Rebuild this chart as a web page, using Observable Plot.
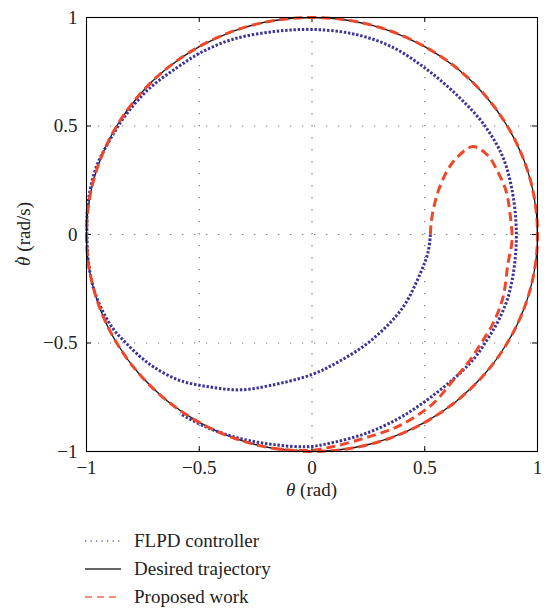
<!DOCTYPE html>
<html>
<head>
<meta charset="utf-8">
<script src="https://cdn.jsdelivr.net/npm/d3@7"></script>
<script src="https://cdn.jsdelivr.net/npm/@observablehq/plot@0.6"></script>
<style>
  body { margin: 0; background: #fff; font-family: "Liberation Serif", serif; }
  #legend { padding: 22px 0 0 85px; }
  .row { display: flex; align-items: center; height: 28px; font-size: 19px; color: #222; }
  .row svg { margin-right: 13px; }
</style>
</head>
<body>
<div id="chart"></div>
<div id="legend"></div>
<script>
const xTicks = [-1, -0.5, 0, 0.5, 1];
const yTicks = [-1, -0.5, 0, 0.5, 1];
const gridTicks = [-0.5, 0, 0.5];

const seriesNames = ["FLPD controller", "Desired trajectory", "Proposed work"];
const seriesColors = ["#3b3399", "#1a1a1a", "#f0472a"];

const desiredTheta = [1, 0.985, 0.94, 0.866, 0.766, 0.643, 0.5, 0.342, 0.174, 0, -0.174, -0.342, -0.5, -0.643, -0.766, -0.866, -0.94, -0.985, -1, -0.985, -0.94, -0.866, -0.766, -0.643, -0.5, -0.342, -0.174, 0, 0.174, 0.342, 0.5, 0.643, 0.766, 0.866, 0.94, 0.985];
const desiredRate = [0, 0.174, 0.342, 0.5, 0.643, 0.766, 0.866, 0.94, 0.985, 1, 0.985, 0.94, 0.866, 0.766, 0.643, 0.5, 0.342, 0.174, 0, -0.174, -0.342, -0.5, -0.643, -0.766, -0.866, -0.94, -0.985, -1, -0.985, -0.94, -0.866, -0.766, -0.643, -0.5, -0.342, -0.174];

const flpdTheta = [0.525, 0.515, 0.48, 0.40, 0.26, 0.12, 0, -0.186, -0.319, -0.45, -0.585, -0.70, -0.765, -0.825, -0.878, -0.925, -0.965, -0.99, -0.998, -0.993, -0.957, -0.898, -0.822, -0.72, -0.60, -0.49, -0.35, -0.17, 0, 0.18, 0.35, 0.51, 0.65, 0.76, 0.845, 0.888, 0.906, 0.898, 0.872, 0.83, 0.78, 0.72, 0.65, 0.57, 0.48, 0.38, 0.243, 0.095, -0.02, -0.173, -0.319, -0.466, -0.585];
const flpdRate = [0, -0.08, -0.18, -0.34, -0.49, -0.585, -0.645, -0.696, -0.716, -0.703, -0.673, -0.612, -0.56, -0.5, -0.44, -0.36, -0.26, -0.14, 0, 0.147, 0.31, 0.433, 0.556, 0.674, 0.768, 0.84, 0.9, 0.935, 0.945, 0.925, 0.867, 0.76, 0.635, 0.51, 0.36, 0.2, 0.02, -0.14, -0.28, -0.39, -0.48, -0.57, -0.645, -0.715, -0.785, -0.85, -0.915, -0.958, -0.978, -0.968, -0.94, -0.889, -0.826];

const proposedTheta = [0.525, 0.528, 0.537, 0.56, 0.6, 0.643, 0.714, 0.78, 0.825, 0.86, 0.878, 0.887, 0.869, 0.847, 0.803, 0.758, 0.7, 0.625, 0.537, 0.39, 0.243, 0.095, -0.009, -0.174, -0.342, -0.5, -0.643, -0.766, -0.866, -0.94, -0.985, -1, -0.985, -0.94, -0.866, -0.766, -0.643, -0.5, -0.342, -0.174, 0, 0.174, 0.342, 0.5, 0.643, 0.766, 0.866, 0.94, 0.985, 1, 0.985, 0.94, 0.866, 0.766, 0.643, 0.5, 0.342, 0.174, 0, -0.174];
const proposedRate = [0, 0.05, 0.11, 0.2, 0.295, 0.355, 0.405, 0.364, 0.286, 0.203, 0.097, -0.028, -0.134, -0.29, -0.41, -0.488, -0.58, -0.673, -0.779, -0.88, -0.935, -0.977, -0.995, -0.985, -0.94, -0.866, -0.766, -0.643, -0.5, -0.342, -0.174, 0, 0.174, 0.342, 0.5, 0.643, 0.766, 0.866, 0.94, 0.985, 1, 0.985, 0.94, 0.866, 0.766, 0.643, 0.5, 0.342, 0.174, 0, -0.174, -0.342, -0.5, -0.643, -0.766, -0.866, -0.94, -0.985, -1, -0.985];

const toRows = (xs, ys) => xs.map((x, i) => ({x, y: ys[i]}));
const desired = toRows(desiredTheta, desiredRate);
const flpd = toRows(flpdTheta, flpdRate);
const proposed = toRows(proposedTheta, proposedRate);

const W = 548, H = 505, mL = 86, mR = 11, mT = 17, mB = 54;
const frameW = W - mL - mR, frameH = H - mT - mB, tickLen = 5;
const fmt = d3.format("");

const chart = Plot.plot({
  width: W, height: H,
  marginLeft: mL, marginRight: mR, marginTop: mT, marginBottom: mB,
  style: {fontFamily: "Liberation Serif, serif", fontSize: "19px", color: "#222", background: "#fff"},
  x: {domain: [-1, 1]},
  y: {domain: [-1, 1]},
  marks: [
    Plot.ruleX(gridTicks, {x: d => d, stroke: "#777", strokeWidth: 1.2, strokeDasharray: "1.3 10.7"}),
    Plot.ruleY(gridTicks, {y: d => d, stroke: "#777", strokeWidth: 1.2, strokeDasharray: "1.3 10.7"}),
    Plot.tickX(xTicks, {x: d => d, insetTop: frameH - tickLen, stroke: "#000"}),
    Plot.tickX(xTicks, {x: d => d, insetBottom: frameH - tickLen, stroke: "#000"}),
    Plot.tickY(yTicks, {y: d => d, insetRight: frameW - tickLen, stroke: "#000"}),
    Plot.tickY(yTicks, {y: d => d, insetLeft: frameW - tickLen, stroke: "#000"}),
    Plot.axisX(xTicks, {tickSize: 0, tickPadding: 9, fontSize: 19, fill: "#222", label: null, tickFormat: fmt}),
    Plot.axisY(yTicks, {tickSize: 0, tickPadding: 9, fontSize: 19, fill: "#222", label: null, tickFormat: fmt}),
    Plot.line(desired, {x: "x", y: "y", curve: "catmull-rom-closed", stroke: seriesColors[1], strokeWidth: 1.3}),
    Plot.line(flpd, {x: "x", y: "y", curve: "catmull-rom", stroke: seriesColors[0], strokeWidth: 3, strokeLinecap: "butt", strokeDasharray: "2.4 1.8"}),
    Plot.line(proposed, {x: "x", y: "y", curve: "catmull-rom", stroke: seriesColors[2], strokeWidth: 3, strokeLinecap: "butt", strokeDasharray: "9 5"}),
    Plot.frame({stroke: "#000", strokeWidth: 1.1})
  ]
});
document.getElementById("chart").appendChild(chart);

// axis titles
const svg = d3.select(chart);
const xl = svg.append("text").attr("x", mL + frameW / 2).attr("y", 496)
  .attr("text-anchor", "middle").attr("font-size", 19).attr("fill", "#222")
  .attr("font-family", "Liberation Serif, serif");
xl.append("tspan").attr("font-style", "italic").text("θ");
xl.append("tspan").text(" (rad)");
const yl = svg.append("text").attr("transform", `translate(30,${mT + frameH / 2}) rotate(-90)`)
  .attr("text-anchor", "middle").attr("font-size", 19).attr("fill", "#222")
  .attr("font-family", "Liberation Serif, serif");
yl.append("tspan").attr("font-style", "italic").text("θ");
yl.append("tspan").attr("dx", "-0.42em").attr("dy", "-0.08em").text("˙");
yl.append("tspan").attr("dx", "0.1em").attr("dy", "0.08em").text(" (rad/s)");

// legend
const legend = d3.select("#legend");
const dashes = ["1.3 4.2", null, "7 5"];
const widths = [1.4, 1.4, 1.6];
const legendColors = ["#6a63c0", "#333", "#f26a50"];
seriesNames.forEach((name, i) => {
  const row = legend.append("div").attr("class", "row");
  const s = row.append("svg").attr("width", 36).attr("height", 10);
  s.append("line").attr("x1", 0).attr("x2", 36).attr("y1", 5).attr("y2", 5)
    .attr("stroke", legendColors[i]).attr("stroke-width", widths[i])
    .attr("stroke-dasharray", dashes[i]);
  row.append("span").text(name);
});
</script>
</body>
</html>
